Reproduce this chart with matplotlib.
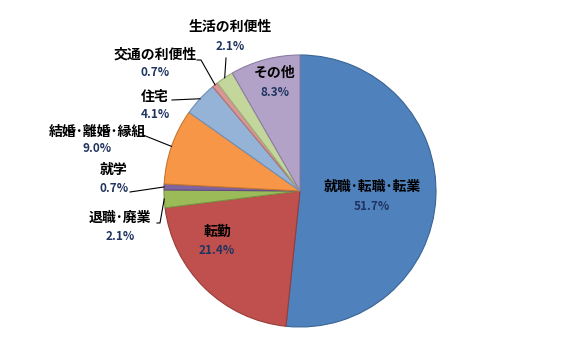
import numpy as np
import matplotlib.pyplot as plt

plt.rcParams['font.family'] = ['Noto Sans CJK JP', 'DejaVu Sans']

# Data
labels = ["就職･転職･転業", "転勤", "退職･廃業", "就学", "結婚･離婚･縁組",
          "住宅", "交通の利便性", "生活の利便性", "その他"]
shares = [51.7, 21.4, 2.1, 0.7, 9.0, 4.1, 0.7, 2.1, 8.3]
colors = ["#4F81BD", "#C0504D", "#9BBB59", "#8064A2", "#F79646",
          "#95B3D7", "#D99694", "#C3D69B", "#B3A2C7"]
edges = ["#3A6494", "#963D3A", "#7A9446", "#624C7E", "#C6772F",
         "#7090B8", "#B07270", "#9CB07A", "#8D7DA3"]

W, H = 583, 361
cx, cy, r = 300, 191, 136


def px(x, y):
    # pixel position (top-left origin) -> data coords
    return x, H - y


fig = plt.figure(figsize=(W / 100, H / 100), dpi=100)
ax = fig.add_axes([0, 0, 1, 1])
wedges, _ = ax.pie(shares, colors=colors, startangle=90, counterclock=False,
                   center=px(cx, cy), radius=r,
                   wedgeprops=dict(linewidth=0.8))
for w, ec in zip(wedges, edges):
    w.set_edgecolor(ec)
ax.set_xlim(0, W)
ax.set_ylim(0, H)
ax.set_aspect('equal')
ax.axis('off')

# label positions in pixels: (name x, name y, pct y)
pos = [(372, 187, 207), (217, 232, 251), (120, 218, 237), (114, 170, 188),
       (97, 132, 148), (155, 97, 114), (155, 55, 73), (230, 27, 46),
       (275, 73, 93)]
pct_color = "#1F3460"
for lab, val, (x, y1, y2) in zip(labels, shares, pos):
    ax.text(*px(x, y1), lab, ha='center', va='center', fontsize=10,
            fontweight='bold', color='black')
    ax.text(*px(x, y2), f"{val:.1f}%", ha='center', va='center', fontsize=8.5,
            fontweight='bold', color=pct_color)

# leader lines: from label end to wedge midpoint on the rim
total = sum(shares)
cum = np.cumsum([0] + shares) / total * 360
mids = (cum[:-1] + cum[1:]) / 2
leader_start = {2: [(157, 223), (160, 223)], 3: [(130, 192)],
                4: [(143, 135)], 5: [(172, 100)], 6: [(197, 60), (201, 60)],
                7: [(226, 58)]}
for i, pts in leader_start.items():
    a = np.deg2rad(mids[i])
    ex, ey = cx + r * np.sin(a), cy - r * np.cos(a)
    xs = [p[0] for p in pts] + [ex]
    ys = [H - p[1] for p in pts] + [H - ey]
    ax.plot(xs, ys, color='black', lw=0.8)

fig.savefig("out.png", dpi=100)
